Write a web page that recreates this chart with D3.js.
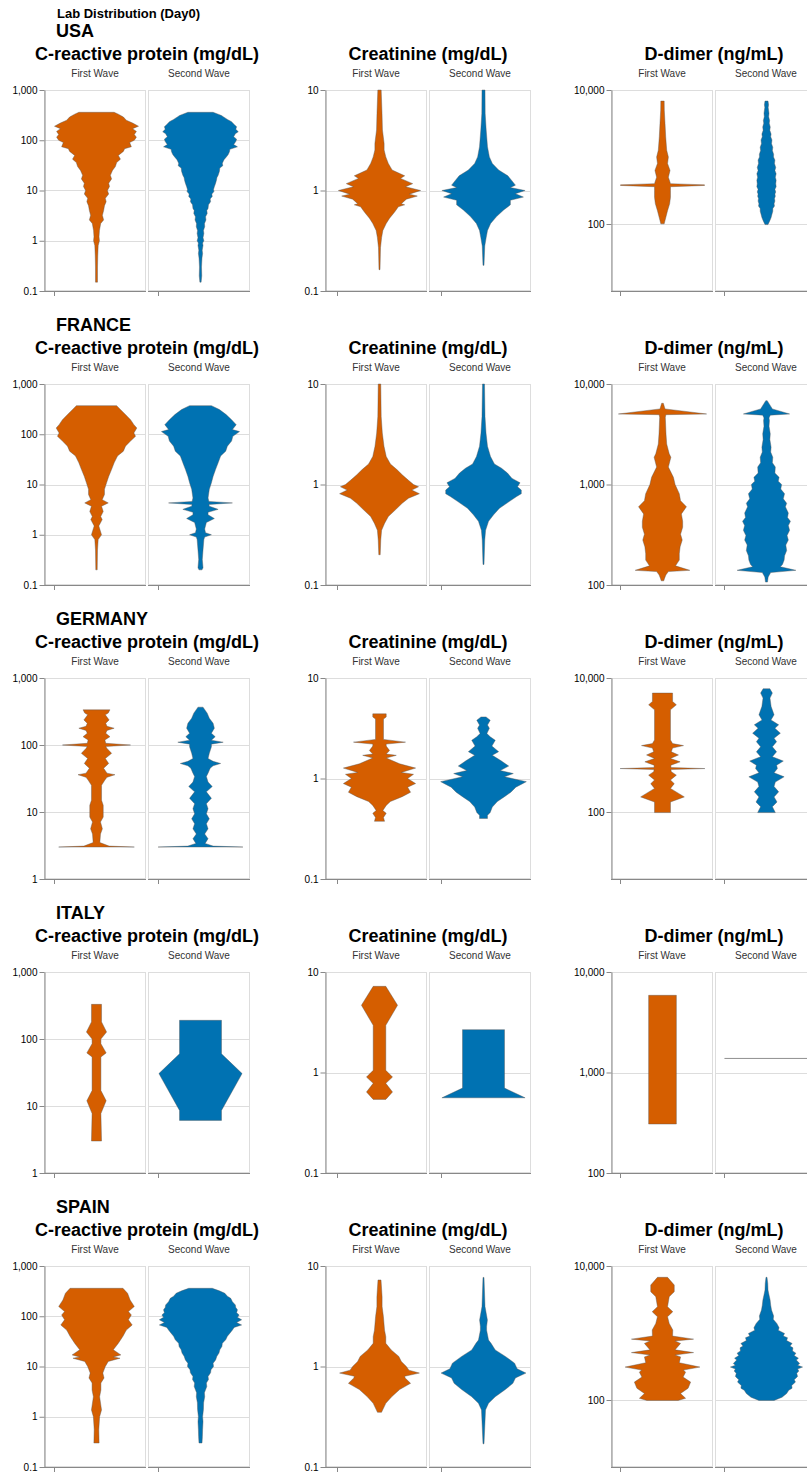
<!DOCTYPE html>
<html>
<head>
<meta charset="utf-8">
<script src="https://cdn.jsdelivr.net/npm/d3@7"></script>
<style>
  body { margin: 0; background: #fff; }
  svg { display: block; }
  text { font-family: "Liberation Sans", Arial, Helvetica, sans-serif; }
</style>
</head>
<body>
<svg id="chart" width="807" height="1472"></svg>
<script>
// ---- categories ----
const countries = ["USA", "FRANCE", "GERMANY", "ITALY", "SPAIN"];
const labs = ["C-reactive protein (mg/dL)", "Creatinine (mg/dL)", "D-dimer (ng/mL)"];
const waves = ["First Wave", "Second Wave"];
const waveColors = ["#d55e00", "#0072b2"];

// ---- y domains and tick values per country ----
const crpDomains = [[0.1, 1000], [0.1, 1000], [1, 1000], [1, 1000], [0.1, 1000]];
const crpTicks = [[0.1, 1, 10, 100, 1000], [0.1, 1, 10, 100, 1000], [1, 10, 100, 1000], [1, 10, 100, 1000], [0.1, 1, 10, 100, 1000]];
const creatinineDomains = [[0.1, 10], [0.1, 10], [0.1, 10], [0.1, 10], [0.1, 10]];
const creatinineTicks = [[0.1, 1, 10], [0.1, 1, 10], [0.1, 1, 10], [0.1, 1, 10], [0.1, 1, 10]];
const dDimerDomains = [[10, 10000], [100, 10000], [10, 10000], [100, 10000], [10, 10000]];
const dDimerTicks = [[100, 10000], [100, 1000, 10000], [100, 10000], [100, 1000, 10000], [100, 10000]];

// ---- density profiles: [lab value, relative density (% of panel peak)], high to low ----
const usaCrpFirst = [[360,42],[330,52],[290,64],[250,71],[220,86],[190,100],[170,86],[150,95],[130,90],[115,95],[100,90],[90,79],[74,83],[68,67],[60,64],[50,52],[42,57],[36,48],[30,45],[25,38],[20,33],[17,36],[14,29],[12,31],[10,26],[8.5,29],[7,21],[6,23],[5,19],[4,17],[3.2,14],[2.6,17],[2.2,10],[1.6,7],[1.2,6],[1.0,7],[0.8,4],[0.5,3],[0.3,2.4],[0.15,2.4]];
const usaCrpSecond = [[360,30],[330,42],[310,50],[295,54],[260,64],[234,74],[210,79],[186,86],[165,84],[148,90],[135,83],[118,79],[105,86],[94,84],[82,79],[74,88],[66,70],[59,69],[52,66],[47,62],[41,56],[35,52],[31,53],[28,46],[24,45],[20,42],[18,39],[16,38],[14,36],[11.9,33],[10.5,31],[9.5,32],[8.5,27],[7.6,28],[6.8,23],[6,24],[5.2,19],[4.4,18],[4,15],[3.5,16],[3,12],[2.6,13],[2.2,9.5],[1.9,10],[1.6,7],[1.4,8],[1.15,6],[1.0,8],[0.9,5],[0.8,6],[0.65,4],[0.56,5],[0.45,3.5],[0.3,2.4],[0.2,3],[0.15,1.5]];
const usaCreatinineFirst = [[10,4],[5.85,6],[4,7],[2.94,11],[2.53,11],[2.16,15],[1.86,21],[1.6,30],[1.4,60],[1.32,50],[1.17,79],[1.09,62],[1.0,98],[0.92,71],[0.88,90],[0.82,64],[0.74,52],[0.72,60],[0.69,45],[0.61,36],[0.53,24],[0.47,16],[0.40,8],[0.34,5],[0.27,2.4],[0.163,1.2]];
const usaCreatinineSecond = [[10,3.6],[5.85,4],[4,6.4],[2.72,9.5],[2.16,14],[1.86,21],[1.6,36],[1.4,58],[1.26,67],[1.13,76],[1.07,64],[1.0,99],[0.93,76],[0.86,95],[0.8,64],[0.72,64],[0.64,48],[0.55,31],[0.47,17],[0.40,9.5],[0.34,6.4],[0.28,3],[0.18,1.2]];
const usaDDimerFirst = [[6840,4],[5000,4.3],[3160,6],[2000,7.6],[1260,10],[1000,14],[800,12],[630,18],[500,14],[420,18],[400,19],[390,70],[384,100],[376,100],[370,70],[360,19],[316,19],[250,19],[200,17],[158,12],[126,8],[100.5,4]];
const usaDDimerSecond = [[6840,3.6],[6000,5],[5500,4],[4500,6],[3980,5.2],[3500,7.5],[3200,6.5],[2800,9],[2500,7.9],[2200,11],[2000,10],[1800,13],[1580,12],[1400,15],[1250,14],[1100,17],[1000,16.7],[900,20],[800,19],[700,22],[630,20],[560,23],[500,21],[450,23],[400,22],[360,23],[330,20],[300,22],[280,20],[260,21],[240,19],[220,20],[200,18],[185,19],[170,15],[155,15],[140,13],[125,11],[112,7.9],[98,3.6]];

const franceCrpFirst = [[371,48],[310,57],[246,69],[195,81],[155,89],[133,96],[106,89],[91,93],[73,81],[58,69],[46,64],[37,50],[27,42],[20,36],[14.5,29],[10.8,24],[8,19],[6.3,19],[5,13.6],[4.3,28],[3.7,12],[2.9,16],[2.3,10],[2.0,13.6],[1.5,5.5],[1.0,12],[0.8,4],[0.5,2.4],[0.2,1.7]];
const franceCrpSecond = [[371,26],[310,45],[246,61],[195,74],[155,85],[124,76],[113,93],[91,77],[73,74],[58,64],[46,60],[37,48],[27,42],[20,36],[14.5,30],[10.8,26],[8,21],[5.4,18],[4.6,20],[4.3,76],[4.0,20],[3.7,21],[3.2,42],[2.8,18],[2.5,18],[2.1,33],[1.75,14],[1.3,10],[1.1,12],[1.0,26],[0.9,10],[0.8,8],[0.5,6],[0.32,4.3],[0.22,6],[0.2,3.6]];
const franceCreatinineFirst = [[10,3],[4.75,4],[3.25,6.7],[2.4,10.7],[1.9,16],[1.6,26],[1.4,42],[1.25,54],[1.1,69],[1.0,81],[0.95,93],[0.88,77],[0.81,95],[0.73,69],[0.65,54],[0.56,38],[0.48,21],[0.41,12],[0.35,5],[0.28,3],[0.2,1.7]];
const franceCreatinineSecond = [[10,2.4],[4.75,3.6],[3.25,6],[2.4,9.5],[1.9,16.7],[1.6,26],[1.45,43],[1.3,57],[1.15,68],[1.04,87],[0.95,81],[0.88,90],[0.81,90],[0.76,79],[0.68,62],[0.58,38],[0.5,24],[0.43,12],[0.35,5],[0.28,3],[0.16,1.2]];
const franceDDimerFirst = [[6430,2],[5650,6],[5030,105],[4950,8],[4670,6.7],[3190,8.3],[2530,10],[2020,16],[1870,20],[1490,14],[1180,26],[1000,30],[810,40],[690,43],[600,57],[510,45],[430,48],[375,48],[320,43],[280,47],[240,42],[205,40],[177,40],[155,31],[140,65],[136,14],[126,8],[117,5],[110,3]];
const franceDDimerSecond = [[6830,1.7],[5650,14],[5030,55],[4900,9],[4600,6],[4330,7],[3800,6],[3190,9],[2800,8],[2350,11],[2100,10],[1870,15],[1650,14],[1490,21],[1300,20],[1180,30],[1080,28],[1000,36],[900,34],[810,43],[720,40],[650,48],[600,45],[520,52],[470,50],[430,57],[390,52],[350,55],[310,49],[280,52],[250,46],[220,48],[195,43],[177,42],[160,38],[152,33],[140,70],[133,10],[120,4],[107,2.4]];

const germanyCrpFirst = [[335,32],[300,28],[282,21],[237,30],[211,22],[190,25],[178,42],[165,25],[150,22],[133,32],[119,20],[106,22],[100,81],[95,22],[89,25],[75,36],[63,21],[53,29],[45,17],[38,25],[36,44],[33,25],[30,20],[25,12],[15,12],[12.6,16],[8.4,16],[7.1,9.5],[5.6,14],[4.7,9.5],[3.5,8],[3.1,30],[3.0,90]];
const germanyCrpSecond = [[367,6],[298,16],[251,21],[211,30],[178,33],[150,26],[133,35],[118,26],[110,54],[103,26],[94,26],[75,21],[63,18],[57,30],[53,48],[49,30],[45,23],[38,18],[34,14],[28,18],[24,28],[20,14],[16,26],[13.3,14],[11.2,18],[9.4,14],[7.9,21],[6.7,14],[5.6,18],[4.7,10],[4.0,18],[3.4,11],[3.1,30],[3.0,101]];
const germanyCreatinineFirst = [[4.4,16],[4.1,16],[3.9,9.5],[2.45,9.5],[2.3,62],[2.2,16],[2.1,16],[1.9,24],[1.75,16],[1.7,40],[1.6,16],[1.4,48],[1.27,86],[1.15,52],[1.1,81],[1.0,67],[0.89,86],[0.82,67],[0.73,74],[0.66,54],[0.59,26],[0.54,16],[0.48,8],[0.45,16],[0.41,9.5],[0.375,12]];
const germanyCreatinineSecond = [[4.1,6],[3.8,16],[3.4,9.5],[3.16,14],[2.8,8],[2.6,16],[2.4,28],[2.1,20],[1.85,36],[1.7,21],[1.5,42],[1.33,60],[1.2,40],[1.12,71],[1.04,50],[0.93,102],[0.82,77],[0.73,65],[0.66,50],[0.59,33],[0.52,21],[0.46,16],[0.43,9.5],[0.4,9.5]];
const germanyDDimerFirst = [[5960,24],[4470,24],[3980,33],[3350,19],[1190,19],[1050,24],[980,50],[900,24],[790,21],[710,38],[630,19],[560,42],[500,20],[460,20],[445,101],[430,20],[400,21],[355,33],[300,19],[265,28],[225,19],[168,52],[141,19],[98,19]];
const germanyDDimerSecond = [[6920,8],[5960,14],[5010,8.3],[3760,11],[2820,18],[2370,10.7],[2000,29],[1780,20],[1500,33],[1260,18],[1120,24],[940,14],[790,24],[670,14],[575,40],[500,24],[445,26],[385,18],[335,42],[280,21],[240,18],[200,29],[168,18],[141,25],[120,14],[98,21]];

const italyCrpFirst = [[329,12],[180,12],[127,24],[100,10.5],[85,10.5],[62,23],[54,10.5],[17,10.5],[12,23],[7.7,10.5],[3.0,12]];
const italyCrpSecond = [[190,50],[60,50],[30.5,99],[8.6,50],[6.1,50]];
const italyCreatinineFirst = [[7.2,15],[4.67,43],[2.95,15],[1.05,15],[0.9,31],[0.78,15],[0.64,31],[0.54,15]];
const italyCreatinineSecond = [[2.67,50],[0.70,50],[0.56,99]];
const italyDDimerFirst = [[5860,33],[307,33]];
const italyDDimerSecond = [[1380,100],[1380,100]];

const spainCrpFirst = [[360,63],[286,74],[211,80],[156,90],[124,76],[106,83],[85,76],[67,85],[53,71],[40,63],[29,52],[21.5,40],[17,58],[15.5,40],[14.6,56],[12.6,28],[10,21],[7.4,15],[5.9,18],[4.7,10.5],[3.4,10.5],[2.5,7.4],[1.37,12],[1.0,7.4],[0.56,5.5],[0.3,6.2]];
const spainCrpSecond = [[360,28],[320,45],[286,58],[250,64],[227,72],[195,76],[168,83],[150,84],[134,88],[118,86],[106,92],[95,88],[85,98],[75,86],[67,98],[60,80],[53,76],[46,70],[40,64],[34,60],[29,52],[25,51],[21.5,46],[18.5,44],[16,39],[13.5,36],[11.6,30],[10,31],[8.6,25],[7.5,24],[6.3,18],[5.5,19],[4.7,14],[4,15],[3.0,9.3],[2.5,10],[1.9,7.4],[1.4,7],[1.0,5],[0.8,6],[0.56,5],[0.4,4.5],[0.3,3.6]];
const spainCreatinineFirst = [[7.26,3.6],[4.95,6.2],[3.95,6.2],[3.14,9.3],[2.3,12],[1.98,15],[1.7,15],[1.46,28],[1.26,46],[1.12,52],[1.0,64],[0.92,70],[0.86,95],[0.8,60],[0.77,61],[0.68,74],[0.59,48],[0.5,29],[0.43,15],[0.35,4.8]];
const spainCreatinineSecond = [[7.7,1.2],[3.95,3.6],[2.9,9.3],[2.5,7.4],[2.3,7.4],[1.83,12],[1.7,18],[1.46,28],[1.26,52],[1.08,74],[0.95,80],[0.86,101],[0.77,76],[0.68,70],[0.59,52],[0.5,28],[0.43,12],[0.37,4.8],[0.17,1.2]];
const spainDDimerFirst = [[6780,12],[5200,28],[4140,28],[3490,16],[2470,12],[2080,24.5],[1750,12],[1390,16],[1110,24.5],[900,24],[810,74],[760,30],[700,43],[560,30],[510,74],[470,30],[440,43],[360,40],[310,89],[280,50],[260,55],[220,49],[185,67],[150,61],[125,43],[106,55],[98.5,37]];
const spainDDimerSecond = [[6780,1.2],[5500,3],[4380,3.6],[3700,6],[3110,8.6],[2600,10],[2200,12],[1800,17],[1600,16],[1390,24.5],[1200,30],[1100,28],[985,43],[900,40],[850,50],[770,48],[700,61],[640,56],[600,63],[540,62],[500,70],[460,66],[420,76],[395,71],[350,79],[330,74],[310,86],[290,74],[270,77],[250,72],[225,74],[200,66],[185,69],[165,60],[150,61],[140,53],[125,48],[110,37],[98.5,18]];

// profiles indexed [country][lab][wave]
const profiles = [
  [[usaCrpFirst, usaCrpSecond], [usaCreatinineFirst, usaCreatinineSecond], [usaDDimerFirst, usaDDimerSecond]],
  [[franceCrpFirst, franceCrpSecond], [franceCreatinineFirst, franceCreatinineSecond], [franceDDimerFirst, franceDDimerSecond]],
  [[germanyCrpFirst, germanyCrpSecond], [germanyCreatinineFirst, germanyCreatinineSecond], [germanyDDimerFirst, germanyDDimerSecond]],
  [[italyCrpFirst, italyCrpSecond], [italyCreatinineFirst, italyCreatinineSecond], [italyDDimerFirst, italyDDimerSecond]],
  [[spainCrpFirst, spainCrpSecond], [spainCreatinineFirst, spainCreatinineSecond], [spainDDimerFirst, spainDDimerSecond]]
];
const domains = [crpDomains, creatinineDomains, dDimerDomains];
const ticks = [crpTicks, creatinineTicks, dDimerTicks];

// ---- layout ----
const svg = d3.select("#chart");
const panelW = 102, panelH = 201, panelGap = 2;
const firstTop = 90, rowPitch = 294;
const colLeft = [44, 325, 611];      // y-axis position of each lab column
const centerShift = [1.5, 3.5, 0.5]; // violin centre offset inside its cell
const fmt = d3.format(",");
const halfWidth = d3.scaleLinear().domain([0, 100]).range([0, 42]);
const GRID = "#dddddd", AXIS = "#888888";

svg.append("text")
  .attr("x", 57).attr("y", 18)
  .attr("font-size", 13).attr("font-weight", "bold").attr("fill", "#000")
  .text("Lab Distribution (Day0)");

countries.forEach((country, r) => {
  const top = firstTop + r * rowPitch;
  const bottom = top + panelH;

  svg.append("text")
    .attr("x", 56).attr("y", top - 53)
    .attr("font-size", 18).attr("font-weight", "bold").attr("fill", "#000")
    .text(country);

  labs.forEach((lab, c) => {
    const left = colLeft[c];
    const y = d3.scaleLog().domain(domains[c][r]).range([bottom, top]);
    const tv = ticks[c][r];

    const g = svg.append("g");

    g.append("text")
      .attr("x", left + panelW + panelGap / 2).attr("y", top - 30)
      .attr("text-anchor", "middle")
      .attr("font-size", 18).attr("font-weight", "bold").attr("fill", "#000")
      .text(lab);

    waves.forEach((wave, w) => {
      const px = left + w * (panelW + panelGap);
      const cx = px + panelW / 2 + centerShift[c];

      g.append("text")
        .attr("x", px + panelW / 2).attr("y", top - 13.5)
        .attr("text-anchor", "middle")
        .attr("font-size", 10).attr("fill", "#333")
        .text(wave);

      // grid
      g.append("g").selectAll("line").data(tv).join("line")
        .attr("x1", px).attr("x2", px + panelW)
        .attr("y1", d => Math.round(y(d)) + 0.5).attr("y2", d => Math.round(y(d)) + 0.5)
        .attr("stroke", GRID).attr("stroke-width", 1);

      // frame
      g.append("rect")
        .attr("x", px + 0.5).attr("y", top + 0.5)
        .attr("width", panelW - 1).attr("height", panelH - 1)
        .attr("fill", "none").attr("stroke", GRID);

      // violin
      const area = d3.area()
        .curve(d3.curveLinear)
        .y(d => y(d[0]))
        .x0(d => cx - halfWidth(d[1]))
        .x1(d => cx + halfWidth(d[1]));
      g.append("path")
        .datum(profiles[r][c][w])
        .attr("d", area)
        .attr("fill", waveColors[w])
        .attr("stroke", "#555")
        .attr("stroke-width", 0.5)
        .attr("stroke-opacity", 0.8);

      // density axis along the bottom
      g.append("line")
        .attr("x1", px).attr("x2", px + panelW)
        .attr("y1", bottom + 0.5).attr("y2", bottom + 0.5)
        .attr("stroke", AXIS);
      g.append("line")
        .attr("x1", px + 8.5 + centerShift[c] + 0.5).attr("x2", px + 8.5 + centerShift[c] + 0.5)
        .attr("y1", bottom).attr("y2", bottom + 5)
        .attr("stroke", AXIS);
    });

    // value axis
    const axis = d3.axisLeft(y).tickValues(tv).tickFormat(fmt)
      .tickSize(5).tickSizeOuter(0).tickPadding(2);
    const ag = g.append("g").attr("transform", `translate(${left + 0.5},0)`).call(axis);
    ag.select(".domain").attr("stroke", AXIS);
    ag.selectAll(".tick line").attr("stroke", AXIS);
    ag.selectAll(".tick text")
      .attr("font-size", 10).attr("fill", "#000")
      .attr("font-family", "'Liberation Sans', Arial, Helvetica, sans-serif");
  });
});
</script>
</body>
</html>
